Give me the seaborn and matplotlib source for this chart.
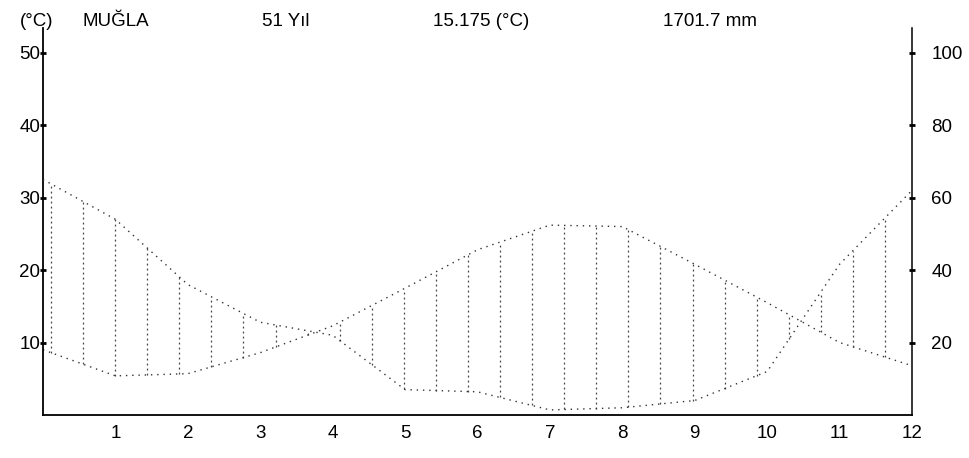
import numpy as np
import pandas as pd
import matplotlib
matplotlib.use("Agg")
import matplotlib.pyplot as plt
import seaborn as sns

# ---- data ----
months = list(range(13))
temperature = [9.0, 5.4, 5.7, 8.6, 12.3, 17.5, 22.8, 26.2, 26.0, 20.8, 15.5, 10.0, 6.8]   # °C, left axis
precipitation = [65.0, 54.0, 36.0, 25.6, 22.0, 7.0, 6.4, 1.4, 2.0, 4.0, 12.0, 41.6, 62.0]  # right axis
left_ticks = [10, 20, 30, 40, 50]
right_ticks = [20, 40, 60, 80, 100]
x_ticks = list(range(1, 13))
header = ["(°C)", "MUĞLA", "51 Yıl", "15.175 (°C)", "1701.7 mm"]

sns.set_theme(style="white")
plt.rcParams["font.family"] = ["Liberation Sans", "DejaVu Sans"]

df = pd.DataFrame({"month": months, "temp": temperature, "prec": precipitation})

fig = plt.figure(figsize=(9.7, 4.58), dpi=100)
ax = fig.add_axes([43 / 970, 1 - 415 / 458, (912 - 43) / 970, (415 - 28) / 458])
ytop = 53.4
ax.set_xlim(0, 12)
ax.set_ylim(0, ytop)

ink = "#333333"
sns.lineplot(data=df, x="month", y="temp", ax=ax, color=ink, lw=1.0,
             linestyle=(0, (1, 3.5)), legend=False)

ax2 = ax.twinx()
ax2.set_ylim(0, 2 * ytop)
sns.lineplot(data=df, x="month", y="prec", ax=ax2, color=ink, lw=1.0,
             linestyle=(0, (1, 3.5)), legend=False)

# vertical hatch between the two curves
xs = np.arange(0.11, 11.7, 0.443)
t_i = np.interp(xs, months, temperature)
p_i = np.interp(xs, months, np.array(precipitation) / 2.0)
ax.vlines(xs, np.minimum(t_i, p_i), np.maximum(t_i, p_i), colors="#444444",
          linewidth=0.9, linestyles=(0, (1.5, 2.5)))

# axes styling
ax.spines["top"].set_visible(False)
ax2.spines["top"].set_visible(False)
ax.spines["right"].set_visible(False)
ax.spines["left"].set_color("black")
ax.spines["left"].set_linewidth(1.3)
ax.spines["bottom"].set_color("black")
ax.spines["bottom"].set_linewidth(1.3)
ax2.spines["left"].set_visible(False)
ax2.spines["bottom"].set_visible(False)
ax2.spines["right"].set_color("black")
ax2.spines["right"].set_linewidth(1.1)

fs = 13.5
ax.set_xticks(x_ticks)
ax.set_xticklabels([str(v) for v in x_ticks], fontsize=fs)
ax.set_yticks(left_ticks)
ax.set_yticklabels([str(v) for v in left_ticks], fontsize=fs)
ax2.set_yticks(right_ticks)
ax2.set_yticklabels([str(v) for v in right_ticks], fontsize=fs)

ax.tick_params(axis="x", direction="inout", length=4, width=2, pad=5, colors="black")
ax.tick_params(axis="y", direction="inout", length=4, width=2, pad=0, colors="black")
ax2.tick_params(axis="y", direction="inout", length=4, width=2, pad=12, colors="black")
ax.set_xlabel("")
ax.set_ylabel("")
ax2.set_ylabel("")
ax.grid(False)
ax2.grid(False)

# header texts
xpos = [20, 83, 262, 433, 663]
for x, s in zip(xpos, header):
    fig.text(x / 970, 1 - 26 / 458, s, ha="left", va="baseline", fontsize=13.5,
             color="black")

fig.savefig("out.png", dpi=100)
